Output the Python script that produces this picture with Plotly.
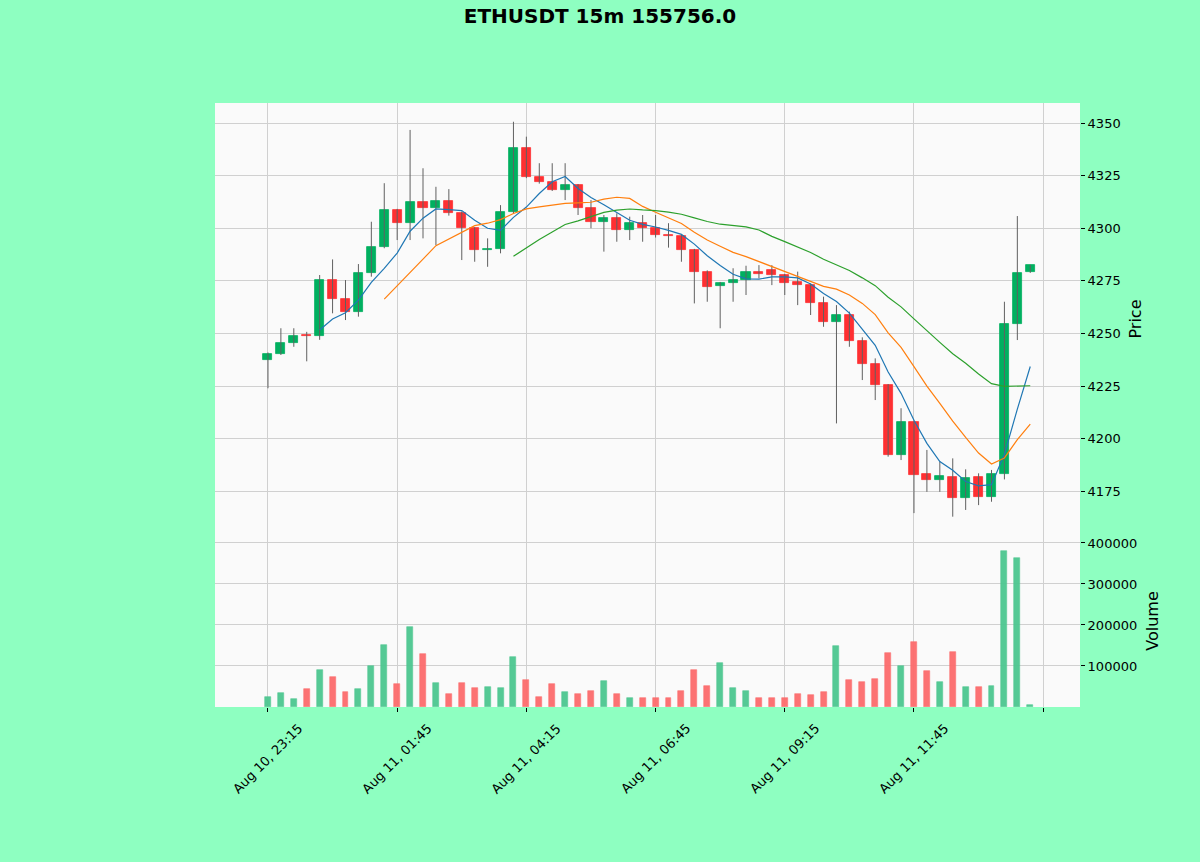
import pandas as pd
import plotly.graph_objects as go

# 15m candles, Aug 10 23:15 -> Aug 11 14:00
times = pd.date_range("2025-08-10 23:15", periods=60, freq="15min")

opens = [
    4237.4, 4240.3, 4245.3, 4249.2, 4248.6, 4275.4, 4266.2, 4260.4, 4278.6, 4291.0,
    4308.7, 4302.4, 4312.3, 4309.5, 4313.0, 4307.1, 4300.0, 4289.7, 4290.3, 4307.9,
    4338.0, 4324.5, 4321.8, 4318.2, 4320.5, 4309.5, 4303.1, 4304.7, 4299.2, 4302.4,
    4300.0, 4296.8, 4296.5, 4289.7, 4279.4, 4272.5, 4274.0, 4275.4, 4279.0, 4280.0,
    4277.8, 4274.6, 4273.0, 4264.6, 4255.6, 4258.8, 4246.6, 4235.4, 4225.5, 4192.3,
    4208.1, 4183.5, 4180.4, 4182.0, 4171.7, 4182.0, 4172.5, 4183.3, 4254.5, 4279.0,
]
highs = [
    4241.0, 4252.5, 4252.5, 4250.8, 4277.8, 4285.2, 4275.4, 4283.0, 4303.1, 4321.4,
    4309.2, 4346.7, 4328.5, 4319.7, 4318.6, 4308.0, 4300.5, 4295.2, 4311.0, 4350.6,
    4343.5, 4330.9, 4330.9, 4330.9, 4321.0, 4313.4, 4306.3, 4307.1, 4305.5, 4306.3,
    4306.3, 4302.4, 4297.0, 4290.2, 4280.0, 4274.5, 4281.0, 4282.2, 4282.5, 4282.5,
    4278.3, 4279.4, 4273.8, 4267.5, 4263.5, 4260.4, 4248.2, 4238.2, 4226.0, 4214.5,
    4208.6, 4194.7, 4189.1, 4190.7, 4185.5, 4183.6, 4185.2, 4265.1, 4305.8, 4282.6,
]
lows = [
    4224.0, 4239.8, 4243.7, 4236.8, 4247.0, 4259.6, 4256.4, 4258.0, 4277.0, 4290.5,
    4294.4, 4294.4, 4295.2, 4292.0, 4306.0, 4284.9, 4284.1, 4281.7, 4288.1, 4307.0,
    4323.8, 4321.2, 4317.7, 4313.4, 4306.3, 4300.0, 4288.9, 4293.6, 4294.4, 4293.6,
    4295.6, 4290.8, 4284.1, 4264.3, 4265.1, 4252.5, 4265.1, 4268.3, 4276.2, 4273.0,
    4268.3, 4263.5, 4258.8, 4253.2, 4207.3, 4243.7, 4227.9, 4218.4, 4191.5, 4189.9,
    4164.7, 4174.8, 4174.8, 4163.0, 4166.2, 4168.5, 4170.1, 4180.7, 4246.9, 4278.8,
]
closes = [
    4240.3, 4245.3, 4248.8, 4248.6, 4275.4, 4266.2, 4260.4, 4278.6, 4291.0, 4308.7,
    4302.4, 4312.3, 4309.5, 4313.0, 4307.1, 4300.0, 4289.7, 4290.3, 4307.9, 4338.0,
    4324.5, 4321.8, 4318.2, 4320.5, 4309.5, 4303.1, 4304.7, 4299.2, 4302.4, 4300.0,
    4296.8, 4296.5, 4289.7, 4279.4, 4272.2, 4274.0, 4275.4, 4279.0, 4278.5, 4277.8,
    4273.9, 4273.0, 4264.6, 4255.6, 4258.8, 4246.6, 4235.4, 4225.5, 4192.3, 4208.1,
    4182.8, 4180.4, 4182.3, 4171.7, 4181.2, 4172.5, 4183.3, 4254.5, 4278.9, 4282.5,
]
volumes = [
    25100, 33300, 19500, 43900, 90200, 74000, 35800, 43900, 100800, 151200,
    55300, 194300, 129300, 57700, 31700, 59300, 46300, 49600, 46300, 121100,
    65900, 25100, 56100, 35800, 31700, 39000, 63400, 31700, 21100, 22800,
    22800, 22800, 39800, 90200, 51200, 106500, 45500, 39000, 21100, 21100,
    22800, 30900, 29300, 35800, 148800, 65000, 61000, 68300, 131000, 100800,
    159300, 87800, 60200, 133300, 49600, 48000, 51200, 381300, 362600, 4900,
]
mav_periods = [5, 10, 20]

tick_pos = [0, 10, 20, 30, 40, 50, 60]
tick_labels = ["Aug 10, 23:15", "Aug 11, 01:45", "Aug 11, 04:15", "Aug 11, 06:45",
               "Aug 11, 09:15", "Aug 11, 11:45", ""]

df = pd.DataFrame({"open": opens, "high": highs, "low": lows,
                   "close": closes, "volume": volumes}, index=times)
df["i"] = range(len(df))
up = df["close"] >= df["open"]

UP, DOWN = "#00b060", "#fe3032"
VUP, VDOWN = "#4dc790", "#fd6b6c"
WICK = "#606060"
GRID = "#d0d0d0"
FONT = "DejaVu Sans"

fig = go.Figure()

# wicks
wx, wy = [], []
for i, h, l in zip(df["i"], df["high"], df["low"]):
    wx += [i, i, None]
    wy += [l, h, None]
fig.add_trace(go.Scatter(x=wx, y=wy, mode="lines", line=dict(color=WICK, width=1),
                         hoverinfo="skip", showlegend=False, xaxis="x", yaxis="y"))

# bodies
body_lo = df[["open", "close"]].min(axis=1)
body_h = (df["close"] - df["open"]).abs().clip(lower=0.4)
body_col = [UP if u else DOWN for u in up]
fig.add_trace(go.Bar(x=df["i"], y=body_h, base=body_lo, width=0.7,
                     marker=dict(color=body_col, line=dict(color=body_col, width=0.8)),
                     showlegend=False, xaxis="x", yaxis="y"))

# moving averages
for p, col in zip(mav_periods, ["#1f77b4", "#ff7f0e", "#2ca02c"]):
    ma = df["close"].rolling(p).mean()
    fig.add_trace(go.Scatter(x=df["i"], y=ma, mode="lines", line=dict(color=col, width=1.2),
                             showlegend=False, xaxis="x", yaxis="y"))

# volume
vol_col = [VUP if u else VDOWN for u in up]
fig.add_trace(go.Bar(x=df["i"], y=df["volume"], width=0.46,
                     marker=dict(color=vol_col, line=dict(color=vol_col, width=0.6)),
                     opacity=0.95, showlegend=False, xaxis="x2", yaxis="y2"))

# rotated date labels, centred under their ticks like matplotlib
for pos, lab in zip(tick_pos, tick_labels):
    if lab:
        fig.add_annotation(x=pos, xref="x2", y=0, yref="paper", text=lab, showarrow=False,
                           textangle=-45, xanchor="center", yanchor="top", yshift=-11,
                           font=dict(family=FONT, size=13, color="black"))

split = (707 - 535) / (707 - 103)
xcommon = dict(range=[-4.1, 62.85], tickmode="array", tickvals=tick_pos,
               showgrid=True, gridcolor=GRID, gridwidth=1, zeroline=False, showline=False)
fig.update_layout(
    width=1200, height=862,
    margin=dict(l=215, r=120, t=103, b=155),
    paper_bgcolor="#8effc1", plot_bgcolor="#fafafa",
    font=dict(family=FONT, size=13, color="black"),
    bargap=0, barmode="overlay",
    title=dict(text="<b>ETHUSDT 15m 155756.0</b>", x=0.5, xanchor="center",
               y=0.981, yanchor="middle", font=dict(family=FONT, size=20)),
    xaxis=dict(**xcommon, anchor="y", matches="x2", showticklabels=False, ticks=""),
    xaxis2=dict(**xcommon, anchor="y2", showticklabels=False,
                ticks="outside", ticklen=4, tickcolor="black"),
    yaxis=dict(domain=[split, 1], range=[4154.3, 4359.5], side="right",
               tickvals=[4175, 4200, 4225, 4250, 4275, 4300, 4325, 4350],
               ticks="outside", ticklen=4, tickcolor="black",
               showgrid=True, gridcolor=GRID, zeroline=False,
               title=dict(text="Price", standoff=10)),
    yaxis2=dict(domain=[0, split], range=[0, 419400], side="right", anchor="x2",
                tickvals=[100000, 200000, 300000, 400000], tickformat="d",
                ticks="outside", ticklen=4, tickcolor="black",
                showgrid=True, gridcolor=GRID, zeroline=False,
                title=dict(text="Volume", standoff=10)),
)

fig.write_html("out.html", config={"displayModeBar": False},
               post_script="document.body.style.margin='0';")
